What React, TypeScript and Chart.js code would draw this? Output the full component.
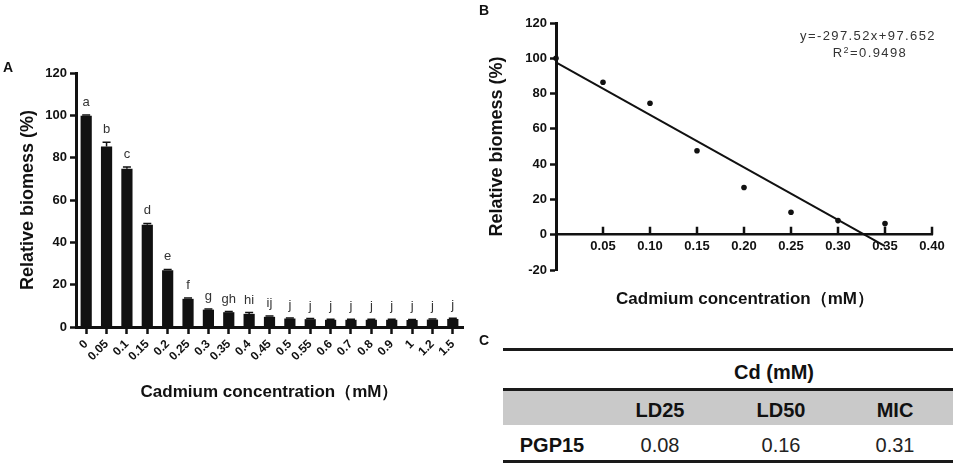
import React, { useEffect, useRef } from "react";
import { Chart, registerables } from "chart.js";

Chart.register(...registerables);

const FONT = "'Liberation Sans', Arial, Helvetica, sans-serif";
const INK = "#111111";

// ---------- Panel A data ----------
const concentrations = ["0", "0.05", "0.1", "0.15", "0.2", "0.25", "0.3", "0.35", "0.4", "0.45", "0.5", "0.55", "0.6", "0.7", "0.8", "0.9", "1", "1.2", "1.5"];
const biomass = [99.8, 85.3, 74.8, 48.3, 26.8, 13.3, 8.2, 7.0, 6.2, 4.8, 4.0, 3.7, 3.4, 3.4, 3.4, 3.4, 3.3, 3.5, 3.8];
const biomassErr = [0.3, 2.0, 0.8, 0.6, 0.4, 0.4, 0.3, 0.3, 0.6, 0.4, 0.3, 0.3, 0.3, 0.3, 0.3, 0.3, 0.3, 0.3, 0.3];
const sigLetters = ["a", "b", "c", "d", "e", "f", "g", "gh", "hi", "ij", "j", "j", "j", "j", "j", "j", "j", "j", "j"];
const yTicksA = [0, 20, 40, 60, 80, 100, 120];

// ---------- Panel B data ----------
const fitX = [0, 0.05, 0.1, 0.15, 0.2, 0.25, 0.3, 0.35];
const fitY = [100, 86.4, 74.5, 47.6, 26.8, 12.7, 8.0, 6.3];
const slope = -297.52;
const intercept = 97.652;
const lineXRange = [0, 0.35];
const xTicksB = [0.05, 0.1, 0.15, 0.2, 0.25, 0.3, 0.35, 0.4];
const yTicksB = [-20, 0, 20, 40, 60, 80, 100, 120];
const equationText = "y=-297.52x+97.652";
const r2Value = "0.9498";

// ---------- Panel C data ----------
const tableGroup = "Cd (mM)";
const tableHeaders = ["LD25", "LD50", "MIC"];
const tableRowLabel = "PGP15";
const tableValues = ["0.08", "0.16", "0.31"];

const barAnnotations = {
  id: "barAnnotations",
  afterDatasetsDraw(chart: any) {
    const meta = chart.getDatasetMeta(0);
    const y = chart.scales.y;
    const ctx = chart.ctx;
    ctx.save();
    meta.data.forEach((bar: any, i: number) => {
      const base = y.getPixelForValue(biomass[i]);
      const top = y.getPixelForValue(biomass[i] + biomassErr[i]);
      ctx.strokeStyle = INK;
      ctx.lineWidth = 1.5;
      ctx.beginPath();
      ctx.moveTo(bar.x, base);
      ctx.lineTo(bar.x, top);
      ctx.moveTo(bar.x - 4, top);
      ctx.lineTo(bar.x + 4, top);
      ctx.stroke();
      ctx.fillStyle = "#333";
      ctx.font = `13px ${FONT}`;
      ctx.textAlign = "center";
      ctx.textBaseline = "alphabetic";
      ctx.fillText(sigLetters[i], bar.x, top - 9);
    });
    ctx.restore();
  },
};

// tick marks pointing up from the zero-line x axis of panel B
const upTicks = {
  id: "upTicks",
  afterDraw(chart: any) {
    const xs = chart.scales.x;
    const ys = chart.scales.y;
    const ctx = chart.ctx;
    const y0 = ys.getPixelForValue(0);
    ctx.save();
    ctx.strokeStyle = INK;
    ctx.lineWidth = 2.5;
    ctx.beginPath();
    xs.ticks.forEach((t: any) => {
      const px = xs.getPixelForValue(t.value);
      ctx.moveTo(px, y0);
      ctx.lineTo(px, y0 - 8);
    });
    ctx.stroke();
    ctx.restore();
  },
};

const abs = (extra: React.CSSProperties): React.CSSProperties => ({
  position: "absolute",
  lineHeight: 1,
  whiteSpace: "nowrap",
  color: INK,
  fontFamily: FONT,
  ...extra,
});

const centered = (x: number, y: number, size: number, bold: boolean, extra: React.CSSProperties = {}) =>
  abs({ left: x, top: y, fontSize: size, fontWeight: bold ? "bold" : "normal", transform: "translate(-50%, -50%)", ...extra });

export default function App() {
  const refA = useRef<HTMLCanvasElement>(null);
  const refB = useRef<HTMLCanvasElement>(null);

  useEffect(() => {
    Chart.defaults.font.family = FONT;
    Chart.defaults.color = INK;

    const chartA = new Chart(refA.current as HTMLCanvasElement, {
      type: "bar",
      data: {
        labels: concentrations,
        datasets: [
          {
            data: biomass,
            backgroundColor: INK,
            borderWidth: 0,
            categoryPercentage: 1,
            barPercentage: 0.55,
          },
        ],
      },
      options: {
        responsive: false,
        animation: false,
        devicePixelRatio: 1,
        layout: { padding: { left: 13, top: 73, right: 15, bottom: 13 } },
        plugins: { legend: { display: false }, tooltip: { enabled: false } },
        scales: {
          x: {
            grid: { display: true, drawOnChartArea: false, drawTicks: true, tickLength: 7, tickWidth: 2.5, tickColor: INK, offset: false },
            border: { display: true, color: INK, width: 3 },
            ticks: { minRotation: 45, maxRotation: 45, autoSkip: false, padding: 3, font: { size: 12, weight: "bold" }, color: INK },
            title: { display: true, text: "Cadmium concentration（mM）", font: { size: 17, weight: "bold" }, color: INK, padding: { top: 4, bottom: 4 } },
            afterFit: (s: any) => {
              s.height = 80;
            },
          },
          y: {
            min: 0,
            max: 120,
            afterBuildTicks: (s: any) => {
              s.ticks = yTicksA.map((v) => ({ value: v }));
            },
            ticks: { font: { size: 13, weight: "bold" }, padding: 3, color: INK },
            grid: { display: true, drawOnChartArea: false, drawTicks: true, tickLength: 6, tickWidth: 2.5, tickColor: INK },
            border: { display: true, color: INK, width: 3 },
            title: { display: true, text: "Relative biomess (%)", font: { size: 18, weight: "bold" }, color: INK, padding: { top: 4, bottom: 4 } },
            afterFit: (s: any) => {
              s.width = 63;
            },
          },
        },
      } as any,
      plugins: [barAnnotations],
    });

    const lineData = lineXRange.map((x) => ({ x, y: slope * x + intercept }));
    const pointData = fitX.map((x, i) => ({ x, y: fitY[i] }));

    const chartB = new Chart(refB.current as HTMLCanvasElement, {
      type: "scatter",
      data: {
        datasets: [
          {
            type: "line",
            data: lineData,
            borderColor: INK,
            borderWidth: 2,
            pointRadius: 0,
            fill: false,
            clip: false,
          } as any,
          {
            type: "scatter",
            data: pointData,
            backgroundColor: INK,
            borderWidth: 0,
            pointRadius: 2.8,
            clip: false,
          } as any,
        ],
      },
      options: {
        responsive: false,
        animation: false,
        devicePixelRatio: 1,
        layout: { padding: { left: 4, top: 23, right: 21, bottom: 30 } },
        plugins: { legend: { display: false }, tooltip: { enabled: false } },
        scales: {
          x: {
            type: "linear",
            position: { y: 0 },
            min: 0,
            max: 0.4,
            afterBuildTicks: (s: any) => {
              s.ticks = xTicksB.map((v) => ({ value: v }));
            },
            ticks: {
              autoSkip: false,
              maxRotation: 0,
              padding: 4,
              font: { size: 13, weight: "bold" },
              color: INK,
              callback: (v: any) => Number(v).toFixed(2),
            },
            grid: { display: false, drawOnChartArea: false, drawTicks: false },
            border: { display: true, color: INK, width: 2.5 },
          },
          y: {
            type: "linear",
            min: -20,
            max: 120,
            afterBuildTicks: (s: any) => {
              s.ticks = yTicksB.map((v) => ({ value: v }));
            },
            ticks: { font: { size: 13, weight: "bold" }, padding: 3, color: INK },
            grid: { display: true, drawOnChartArea: false, drawTicks: true, tickLength: 6, tickWidth: 2.5, tickColor: INK },
            border: { display: true, color: INK, width: 3 },
            title: { display: true, text: "Relative biomess (%)", font: { size: 18, weight: "bold" }, color: INK, padding: { top: 4, bottom: 4 } },
            afterFit: (s: any) => {
              s.width = 74;
            },
          },
        },
      } as any,
      plugins: [upTicks],
    });

    return () => {
      chartA.destroy();
      chartB.destroy();
    };
  }, []);

  const colCenters = [660, 781, 895];

  return (
    <div style={{ position: "absolute", left: 0, top: 0, width: 953, height: 467, background: "#fff", overflow: "hidden", fontFamily: FONT }}>
      <canvas ref={refA} width={478} height={420} style={{ position: "absolute", left: 0, top: 0 }} />
      <canvas ref={refB} width={475} height={300} style={{ position: "absolute", left: 478, top: 0 }} />

      {/* Panel letters */}
      <div style={centered(8, 67, 14, true)}>A</div>
      <div style={centered(484, 10, 14, true)}>B</div>
      <div style={centered(484, 340, 14, true)}>C</div>

      {/* Panel B annotations */}
      <div style={centered(868, 35, 13, false, { color: "#333", letterSpacing: 1.4 })}>{equationText}</div>
      <div style={centered(870, 52, 13, false, { color: "#333", letterSpacing: 1.4 })}>
        R<sup style={{ fontSize: 9, verticalAlign: 4, lineHeight: 0 }}>2</sup>={r2Value}
      </div>
      <div style={centered(745, 298, 17, true)}>Cadmium concentration（mM）</div>

      {/* Panel C table */}
      <div style={abs({ left: 503, top: 348, width: 450, height: 3, background: "#1a1a1a" })} />
      <div style={centered(774, 372, 20, true)}>{tableGroup}</div>
      <div style={abs({ left: 503, top: 388, width: 450, height: 3, background: "#1a1a1a" })} />
      <div style={abs({ left: 503, top: 391, width: 450, height: 34, background: "#c9c9c9" })} />
      {tableHeaders.map((h, i) => (
        <div key={h} style={centered(colCenters[i], 410, 20, true)}>
          {h}
        </div>
      ))}
      <div style={centered(552, 445, 20, true)}>{tableRowLabel}</div>
      {tableValues.map((v, i) => (
        <div key={i} style={centered(colCenters[i], 445, 20, false, { color: "#222" })}>
          {v}
        </div>
      ))}
      <div style={abs({ left: 503, top: 460, width: 450, height: 3, background: "#1a1a1a" })} />
    </div>
  );
}
